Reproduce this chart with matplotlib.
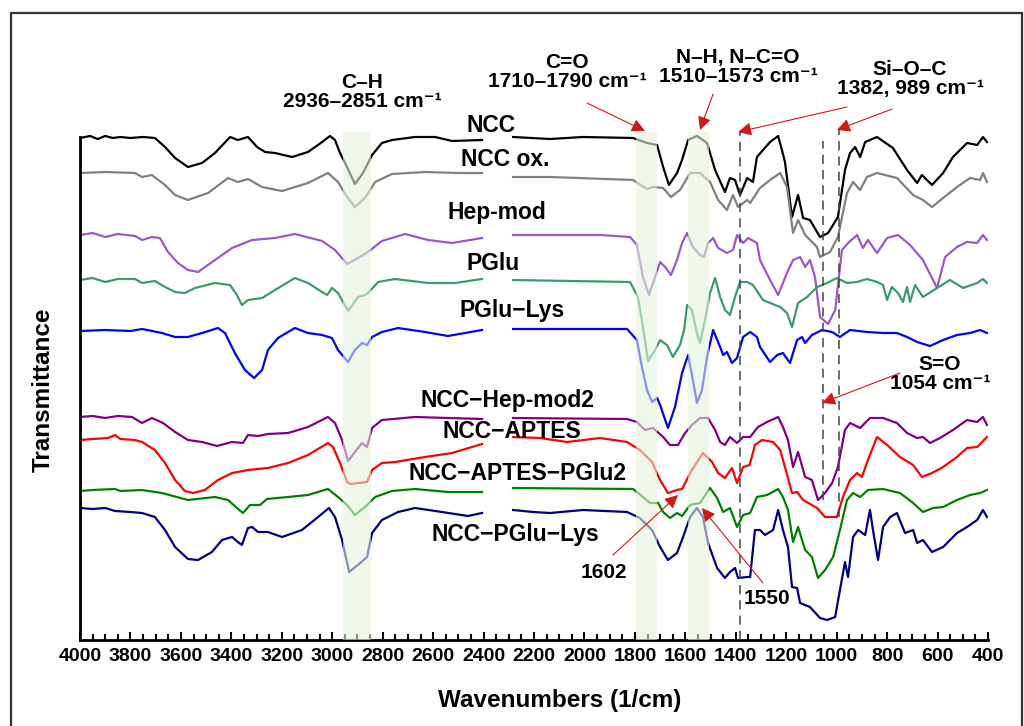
import numpy as np
import matplotlib
matplotlib.use("Agg")
import matplotlib.pyplot as plt
from matplotlib.patches import Rectangle
from matplotlib.ticker import MultipleLocator

plt.rcParams['font.family'] = ['Liberation Sans', 'DejaVu Sans']
plt.rcParams['font.weight'] = 'bold'

nan = np.nan

# ------------------ DATA (wavenumber, offset transmittance a.u.) ------------------
# a nan row marks the removed 2400-2300 region
ncc = [(4000, 502), (3960, 504), (3930, 501), (3900, 504), (3870, 502), (3840, 503), (3800, 502),
       (3750, 503), (3703, 502), (3663, 493), (3623, 482), (3572, 473), (3516, 477), (3465, 487),
       (3405, 503), (3374, 500), (3334, 503), (3298, 493), (3266, 488), (3227, 487), (3159, 483),
       (3096, 488), (3040, 498), (3009, 504), (2989, 500), (2969, 487), (2949, 477), (2910, 456),
       (2878, 467), (2842, 485), (2803, 497), (2763, 500), (2672, 503), (2592, 503), (2525, 499),
       (2406, 500), (2350, nan), (2283, 503), (2136, 501), (2006, 503), (1807, 502), (1752, 497),
       (1712, 495), (1688, 473), (1665, 455), (1633, 467), (1613, 480), (1589, 500), (1554, 504),
       (1514, 497), (1482, 470), (1443, 448), (1423, 462), (1403, 460), (1383, 445), (1355, 462),
       (1332, 458), (1316, 483), (1292, 490), (1264, 498), (1232, 504), (1217, 490), (1205, 478),
       (1177, 423), (1153, 445), (1133, 422), (1106, 420), (1066, 403), (1034, 407), (995, 423),
       (967, 470), (947, 487), (927, 493), (907, 483), (887, 498), (840, 503), (777, 492),
       (721, 470), (681, 457), (662, 465), (622, 455), (578, 467), (539, 483), (483, 497),
       (443, 495), (420, 503), (404, 498)]

ncc_ox = [(4000, 467), (3900, 468), (3782, 467), (3754, 463), (3715, 465), (3663, 455), (3623, 445),
          (3572, 440), (3492, 447), (3413, 462), (3374, 458), (3334, 461), (3278, 453), (3199, 449),
          (3096, 457), (3017, 467), (2977, 458), (2941, 443), (2910, 433), (2870, 442), (2830, 458),
          (2763, 466), (2632, 468), (2501, 467), (2406, 467), (2350, nan), (2283, 463), (2136, 463),
          (1807, 460), (1752, 451), (1728, 453), (1688, 452), (1657, 443), (1621, 450), (1581, 467),
          (1542, 467), (1502, 458), (1470, 440), (1435, 430), (1411, 445), (1391, 433), (1355, 440),
          (1343, 437), (1304, 452), (1264, 460), (1224, 467), (1197, 453), (1173, 407), (1153, 420),
          (1125, 405), (1078, 393), (1066, 383), (1026, 388), (995, 403), (959, 447), (935, 458),
          (907, 450), (880, 463), (840, 467), (761, 462), (697, 445), (658, 440), (622, 433),
          (578, 442), (523, 453), (471, 462), (431, 460), (420, 467), (404, 458)]

hep_mod = [(4000, 405), (3950, 407), (3900, 403), (3850, 406), (3782, 404), (3754, 400), (3715, 403),
           (3683, 402), (3651, 388), (3612, 377), (3572, 370), (3532, 368), (3465, 380), (3397, 392),
           (3318, 400), (3227, 402), (3148, 406), (3040, 399), (2989, 390), (2941, 376), (2898, 382),
           (2858, 388), (2803, 399), (2711, 406), (2620, 400), (2525, 397), (2406, 402), (2350, nan),
           (2283, 405), (1938, 405), (1819, 403), (1792, 395), (1768, 363), (1744, 345), (1720, 363),
           (1700, 378), (1680, 373), (1657, 365), (1633, 380), (1613, 397), (1593, 407), (1570, 393),
           (1542, 385), (1526, 383), (1510, 397), (1490, 402), (1470, 392), (1435, 387), (1411, 390),
           (1395, 405), (1371, 397), (1351, 402), (1316, 397), (1304, 380), (1264, 360), (1232, 345),
           (1197, 367), (1173, 380), (1145, 383), (1125, 373), (1106, 380), (1086, 363), (1066, 323),
           (1034, 316), (1006, 330), (979, 390), (955, 397), (919, 405), (896, 392), (876, 400),
           (840, 387), (800, 402), (757, 405), (709, 395), (658, 380), (602, 352), (570, 383),
           (523, 393), (483, 398), (443, 397), (420, 405), (404, 400)]

pglu = [(4000, 360), (3950, 362), (3900, 358), (3850, 361), (3782, 361), (3754, 357), (3703, 359),
        (3663, 353), (3623, 348), (3584, 347), (3544, 352), (3465, 357), (3405, 355), (3378, 345),
        (3358, 335), (3334, 340), (3278, 342), (3227, 350), (3148, 362), (3096, 357), (3040, 348),
        (3020, 345), (3001, 352), (2977, 347), (2937, 329), (2898, 343), (2870, 345), (2858, 347),
        (2818, 358), (2751, 361), (2620, 357), (2513, 357), (2406, 361), (2350, nan), (2283, 360),
        (1819, 358), (1788, 343), (1768, 313), (1748, 279), (1720, 290), (1700, 300), (1673, 295),
        (1649, 283), (1621, 295), (1605, 310), (1593, 335), (1574, 330), (1554, 307), (1542, 297),
        (1522, 320), (1502, 347), (1482, 362), (1462, 343), (1443, 330), (1423, 325), (1403, 343),
        (1383, 358), (1355, 358), (1332, 355), (1292, 340), (1264, 337), (1224, 333), (1197, 327),
        (1177, 313), (1153, 337), (1117, 343), (1078, 353), (1038, 357), (999, 362), (959, 357),
        (919, 358), (880, 361), (840, 358), (816, 355), (800, 340), (781, 353), (757, 347),
        (737, 338), (721, 353), (709, 338), (689, 355), (658, 343), (602, 352), (551, 360),
        (499, 352), (443, 357), (420, 361), (404, 357)]

pglu_lys = [(4000, 309), (3900, 310), (3800, 309), (3754, 311), (3675, 307), (3623, 303), (3572, 303),
            (3516, 307), (3453, 312), (3425, 307), (3386, 287), (3346, 270), (3310, 262), (3278, 270),
            (3255, 290), (3215, 302), (3148, 312), (3096, 307), (3040, 305), (3001, 302), (2977, 290),
            (2937, 278), (2910, 290), (2882, 297), (2862, 295), (2842, 303), (2803, 308), (2739, 312),
            (2632, 308), (2541, 304), (2406, 310), (2350, nan), (2283, 311), (1831, 311), (1792, 300),
            (1772, 273), (1752, 250), (1732, 238), (1712, 242), (1700, 235), (1669, 212), (1641, 233),
            (1613, 267), (1589, 285), (1570, 260), (1554, 237), (1534, 250), (1514, 283), (1490, 310),
            (1462, 293), (1450, 285), (1435, 288), (1415, 277), (1395, 282), (1371, 303), (1343, 308),
            (1316, 303), (1304, 293), (1264, 278), (1236, 285), (1213, 287), (1185, 277), (1157, 300),
            (1137, 303), (1125, 297), (1098, 305), (1058, 310), (1018, 308), (987, 303), (947, 310),
            (880, 308), (816, 307), (761, 307), (721, 303), (681, 298), (630, 294), (578, 300),
            (523, 305), (471, 307), (431, 310), (404, 307)]

ncc_hep_mod2 = [(4000, 223), (3950, 224), (3900, 222), (3850, 224), (3794, 223), (3754, 217), (3715, 222),
                (3671, 217), (3623, 208), (3572, 200), (3516, 198), (3457, 194), (3397, 198), (3354, 197),
                (3334, 205), (3294, 204), (3255, 206), (3175, 207), (3096, 213), (3017, 223), (2989, 217),
                (2961, 200), (2937, 179), (2910, 188), (2882, 197), (2862, 193), (2842, 212), (2803, 220),
                (2672, 223), (2406, 221), (2350, nan), (2283, 222), (1831, 221), (1792, 218), (1760, 210),
                (1728, 212), (1688, 203), (1661, 195), (1629, 195), (1601, 207), (1574, 215), (1542, 222),
                (1510, 222), (1482, 210), (1462, 198), (1443, 195), (1423, 203), (1395, 197), (1371, 203),
                (1343, 203), (1312, 213), (1276, 218), (1232, 223), (1213, 213), (1193, 200), (1173, 173),
                (1153, 188), (1125, 163), (1098, 160), (1074, 140), (1046, 147), (1018, 157), (995, 173),
                (967, 210), (947, 217), (907, 212), (868, 222), (816, 222), (761, 217), (721, 207),
                (681, 202), (658, 203), (630, 197), (590, 202), (539, 210), (483, 220), (443, 218),
                (420, 223), (404, 215)]

ncc_aptes = [(4000, 200), (3950, 201), (3889, 202), (3861, 205), (3840, 201), (3782, 200), (3754, 198),
             (3703, 190), (3663, 177), (3623, 160), (3584, 149), (3552, 147), (3505, 150), (3453, 160),
             (3397, 167), (3334, 170), (3255, 172), (3175, 177), (3096, 185), (3017, 197), (2997, 193),
             (2969, 177), (2941, 158), (2929, 156), (2862, 158), (2842, 170), (2803, 177), (2751, 178),
             (2632, 183), (2525, 187), (2406, 196), (2350, nan), (2283, 203), (2176, 202), (2069, 198),
             (1938, 202), (1831, 198), (1780, 190), (1732, 178), (1700, 160), (1669, 147), (1633, 150),
             (1613, 151), (1574, 170), (1530, 187), (1494, 178), (1470, 167), (1443, 162), (1415, 172),
             (1395, 157), (1371, 173), (1345, 175), (1324, 195), (1296, 200), (1252, 198), (1224, 190),
             (1205, 173), (1177, 147), (1157, 148), (1133, 140), (1078, 132), (1046, 123), (999, 123),
             (975, 143), (947, 160), (919, 167), (900, 163), (876, 180), (840, 203), (800, 195),
             (749, 183), (697, 175), (662, 163), (622, 167), (578, 173), (523, 183), (483, 192),
             (443, 193), (404, 203)]

ncc_aptes_pglu2 = [(4000, 149), (3950, 150), (3861, 151), (3840, 149), (3754, 150), (3675, 147), (3572, 140),
                   (3465, 143), (3413, 140), (3378, 132), (3354, 127), (3326, 135), (3286, 135), (3259, 141),
                   (3175, 143), (3096, 145), (3017, 151), (2977, 143), (2941, 135), (2910, 125), (2870, 133),
                   (2830, 143), (2763, 149), (2672, 151), (2541, 148), (2406, 148), (2350, nan), (2283, 152),
                   (1807, 151), (1768, 143), (1740, 137), (1708, 137), (1688, 128), (1661, 122), (1633, 127),
                   (1613, 124), (1581, 135), (1542, 137), (1502, 152), (1474, 142), (1450, 128), (1423, 132),
                   (1395, 113), (1371, 125), (1343, 127), (1316, 143), (1276, 145), (1232, 151), (1213, 143),
                   (1193, 130), (1173, 98), (1153, 113), (1125, 90), (1098, 83), (1074, 62), (1046, 70),
                   (1014, 83), (987, 110), (959, 140), (935, 147), (907, 143), (876, 150), (816, 151),
                   (749, 147), (697, 137), (658, 128), (618, 132), (578, 133), (523, 140), (471, 145),
                   (431, 147), (404, 150)]

ncc_pglu_lys = [(4000, 132), (3950, 131), (3900, 132), (3861, 129), (3800, 128), (3754, 127), (3703, 123),
                (3663, 110), (3623, 93), (3572, 81), (3532, 80), (3477, 88), (3437, 100), (3397, 103),
                (3374, 98), (3358, 95), (3334, 112), (3318, 113), (3294, 108), (3255, 108), (3199, 103),
                (3120, 110), (3056, 123), (3013, 132), (2989, 123), (2961, 100), (2933, 68), (2898, 75),
                (2862, 83), (2842, 107), (2803, 120), (2739, 128), (2672, 132), (2565, 128), (2462, 124),
                (2406, 127), (2350, nan), (2283, 130), (2204, 128), (2136, 127), (2006, 130), (1831, 128),
                (1780, 122), (1732, 110), (1700, 93), (1669, 80), (1633, 87), (1609, 103), (1581, 123),
                (1554, 132), (1530, 123), (1510, 97), (1474, 72), (1443, 62), (1423, 68), (1403, 72),
                (1391, 62), (1355, 63), (1343, 63), (1324, 110), (1304, 110), (1284, 105), (1252, 110),
                (1232, 130), (1213, 110), (1193, 93), (1177, 53), (1157, 52), (1145, 37), (1106, 33),
                (1066, 22), (1038, 20), (1006, 23), (987, 50), (967, 78), (955, 63), (935, 103),
                (915, 110), (887, 105), (868, 130), (856, 110), (836, 80), (816, 113), (788, 123),
                (761, 127), (729, 107), (697, 110), (681, 97), (658, 100), (622, 88), (578, 93),
                (523, 107), (483, 113), (443, 120), (420, 130), (404, 123)]

series_names = ["NCC", "NCC ox.", "Hep-mod", "PGlu", "PGlu\u2212Lys",
                "NCC\u2212Hep-mod2", "NCC\u2212APTES", "NCC\u2212APTES\u2212PGlu2", "NCC\u2212PGlu\u2212Lys"]
series_data = [ncc, ncc_ox, hep_mod, pglu, pglu_lys, ncc_hep_mod2, ncc_aptes, ncc_aptes_pglu2, ncc_pglu_lys]

# marked regions / lines
bands = [(2957, 2845), (1796, 1712), (1590, 1506)]
si_o_c_lines = [1382, 989]
s_o_line = 1054

# ------------------ STYLE / LAYOUT ------------------
colors = ["black", "#808080", "#9a58c8", "#3e9a68", "#0000ff",
          "#800080", "#ff0000", "#008000", "#000080"]
label_pos = [(2370, 515), (2315, 480), (2347, 428), (2362, 377), (2287, 330),
             (2307, 239), (2287, 208), (2267, 167), (2275, 105)]

fig = plt.figure(figsize=(10.24, 7.26), dpi=100)
ax = fig.add_axes([80 / 1024, 1 - 640 / 726, 908 / 1024, 510 / 726])

for data, c in zip(series_data, colors):
    arr = np.array(data, dtype=float)
    ax.plot(arr[:, 0], arr[:, 1], color=c, lw=1.6, zorder=2)

for w1, w2 in bands:
    ax.axvspan(w1, w2, ymin=0, ymax=508 / 510, color="#e4f2dc", alpha=0.6, lw=0, zorder=3)

dash = dict(color="#444444", lw=1.1, ls=(0, (6, 4)), zorder=4)
ax.plot([si_o_c_lines[0]] * 2, [0, 508], **dash)
ax.plot([si_o_c_lines[1]] * 2, [123, 510], **dash)
ax.plot([s_o_line] * 2, [140, 499], **dash)

for name, (x, y) in zip(series_names, label_pos):
    ax.text(x, y, name, ha="center", va="center", fontsize=16.5, fontweight="bold", zorder=5)

ann_kw = dict(ha="center", va="center", fontsize=15, fontweight="bold", linespacing=1.0)
ax.text(2882, 548, "C\u2013H\n2936\u20132851 cm\u207b\u00b9", **ann_kw)
ax.text(2069, 568, "C=O\n1710\u20131790 cm\u207b\u00b9", **ann_kw)
ax.text(1391, 573, "N\u2013H, N\u2013C=O\n1510\u20131573 cm\u207b\u00b9", **ann_kw)
ax.text(709, 561, "Si\u2013O\u2013C\n1382, 989 cm\u207b\u00b9", **ann_kw)
ax.text(590, 266, "S=O\n1054 cm\u207b\u00b9", **ann_kw)
ax.text(1922, 68, "1602", **ann_kw)
ax.text(1276, 42, "1550", **ann_kw)

arrows = [((1990, 537), (1760, 509)), ((1490, 546), (1542, 510)),
          ((959, 533), (1391, 508)), ((780, 531), (999, 510)),
          ((749, 267), (1058, 237)), ((1887, 85), (1629, 145)),
          ((1292, 57), (1534, 132))]
for tail, head in arrows:
    ax.annotate("", xy=head, xytext=tail, annotation_clip=False,
                arrowprops=dict(arrowstyle="-|>", color="#d01818", lw=0.8,
                                mutation_scale=20, shrinkA=0, shrinkB=0), zorder=6)

ax.set_xlim(4000, 400)
ax.set_ylim(0, 510)
ax.xaxis.set_major_locator(MultipleLocator(200))
ax.xaxis.set_minor_locator(MultipleLocator(50))
ax.tick_params(axis="x", which="both", direction="in", width=1.5, labelsize=14, pad=6)
ax.tick_params(axis="x", which="major", length=6)
ax.tick_params(axis="x", which="minor", length=4)
for lbl in ax.get_xticklabels():
    lbl.set_fontweight("bold")
ax.set_yticks([])
for s in ["top", "right"]:
    ax.spines[s].set_visible(False)
ax.spines["left"].set_bounds(0, 503)
ax.spines["left"].set_linewidth(2)
ax.spines["bottom"].set_linewidth(2)

fig.text(560 / 1024, 1 - 700 / 726, "Wavenumbers (1/cm)", ha="center", va="center",
         fontsize=17.5, fontweight="bold")
fig.text(43 / 1024, 1 - 390 / 726, "Transmittance", ha="center", va="center",
         rotation=90, fontsize=17.5, fontweight="bold")

fig.patches.append(Rectangle((11 / 1024, -0.1), 1011 / 1024, 1.1 - 13 / 726, transform=fig.transFigure,
                             fill=False, ec="#333333", lw=1.6))

fig.savefig("out.png", dpi=100)
